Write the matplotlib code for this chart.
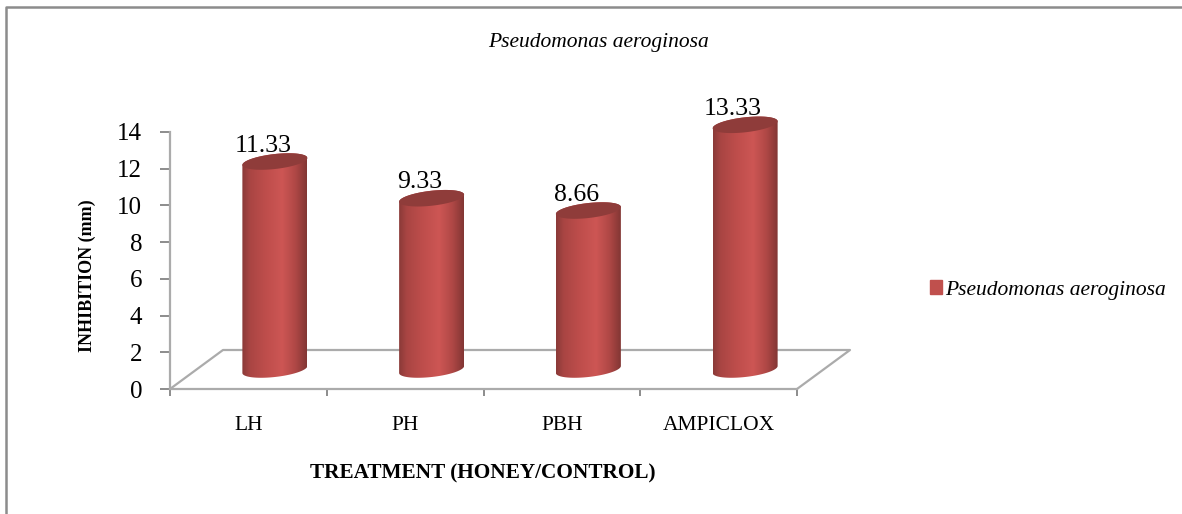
import numpy as np
import matplotlib
matplotlib.use('Agg')
import matplotlib.pyplot as plt
from matplotlib.colors import LinearSegmentedColormap
from matplotlib.lines import Line2D
from matplotlib.patches import Patch, Polygon

categorias = ['LH', 'PH', 'PBH', 'AMPICLOX']
valores = [11.33, 9.33, 8.66, 13.33]
etiquetas = ['11.33', '9.33', '8.66', '13.33']
serie = 'Pseudomonas aeroginosa'

plt.rcParams['font.family'] = ['Liberation Serif', 'DejaVu Serif']

W, H = 1182, 514
fig = plt.figure(figsize=(W / 100, H / 100), dpi=100)
ax = fig.add_axes([170 / W, 1 - 389 / H, (797 - 170) / W, (389 - 132) / H])
ax.set_xlim(0, 4)
ax.set_ylim(0, 14)
ax.patch.set_visible(False)

# Escala en pixeles para la falsa perspectiva 3D
px_x = 4 / (797 - 170)
px_y = 14 / (389 - 132)
dx = 53 * px_x
dy = 39 * px_y

# Piso
gris = '#ababab'
ax.plot([0, dx, 4 + dx, 4], [0, dy, dy, 0], color=gris, lw=1.6, clip_on=False, zorder=1)

# Cilindros
cmap = LinearSegmentedColormap.from_list('cil', [
    (0, '#8a3a38'), (0.12, '#a94543'), (0.35, '#bd4d4b'), (0.62, '#cd5654'),
    (0.82, '#b04846'), (1, '#823634')])
grad = np.linspace(0, 1, 256).reshape(1, -1)
a = 32.5 * px_x
b = 7.5 * px_y
k = 3.5 * px_y
t = np.linspace(0, 2 * np.pi, 120)

for i, v in enumerate(valores):
    cx = i + 0.5 + dx / 2
    y0 = dy / 2
    y1 = v + dy / 2
    # contorno: mitad inferior de la base + mitad superior de la tapa
    tb = np.linspace(np.pi, 2 * np.pi, 60)
    tt = np.linspace(0, np.pi, 60)
    xs = np.r_[cx + a * np.cos(tb), cx + a * np.cos(tt)]
    ys = np.r_[y0 + b * np.sin(tb) + k * np.cos(tb), y1 + b * np.sin(tt) + k * np.cos(tt)]
    contorno = Polygon(np.c_[xs, ys], closed=True, transform=ax.transData, fc='none', ec='none')
    ax.add_patch(contorno)
    im = ax.imshow(grad, cmap=cmap, aspect='auto', zorder=3, interpolation='bilinear',
                   extent=[cx - a, cx + a, y0 - 2 * b, y1 + 2 * b])
    im.set_clip_box(fig.bbox)
    im.set_clip_path(contorno)
    ax.fill(cx + a * np.cos(t), y1 + b * np.sin(t) + k * np.cos(t),
            color='#8f3c3a', lw=0, zorder=4, clip_on=False)
    ax.text(cx - 12 * px_x, y1 + 10 * px_y, etiquetas[i], ha='center', va='baseline',
            fontsize=18.5, color='black', zorder=2)

ax.set_xlim(0, 4)
ax.set_ylim(0, 14)

# Ejes
for lado in ['top', 'right']:
    ax.spines[lado].set_visible(False)
for lado in ['left', 'bottom']:
    ax.spines[lado].set_color(gris)
    ax.spines[lado].set_linewidth(1.6)
ax.set_yticks(np.arange(0, 15, 2))
ax.set_xticks(np.arange(0, 5))
ax.set_xticklabels([])
ax.tick_params(axis='y', labelsize=18, length=7, width=1.4, color='#8c8c8c', pad=13)
ax.tick_params(axis='x', length=5, width=1.4, color='#8c8c8c')
for i, c in enumerate(categorias):
    ax.text(i + 0.5, -36 * px_y, c, ha='center', va='center', fontsize=15.5)

fig.text(483 / W, 1 - 473 / H, 'TREATMENT (HONEY/CONTROL)', ha='center', va='center',
         fontsize=15.3, fontweight='bold')
fig.text(87 / W, 1 - 276 / H, 'INHIBITION (mm)', ha='center', va='center', rotation=90,
         fontsize=13, fontweight='bold')
fig.text(598.5 / W, 1 - 42 / H, serie, ha='center', va='center', fontsize=15.5, style='italic')

# Leyenda
ley = fig.legend(handles=[Patch(color='#c0504d', label=serie)], loc='center left',
                 bbox_to_anchor=(930 / W, 1 - 290 / H), frameon=False,
                 prop={'size': 15.5, 'style': 'italic'}, handlelength=0.56, handleheight=0.56,
                 handletextpad=0.15, borderpad=0, borderaxespad=0)

# Marco de la figura
fig.add_artist(Line2D([6 / W, 6 / W, 1], [0, 1 - 7 / H, 1 - 7 / H],
                      color='#8c8c8c', lw=1.8, transform=fig.transFigure))

fig.savefig('out.png', dpi=100)
